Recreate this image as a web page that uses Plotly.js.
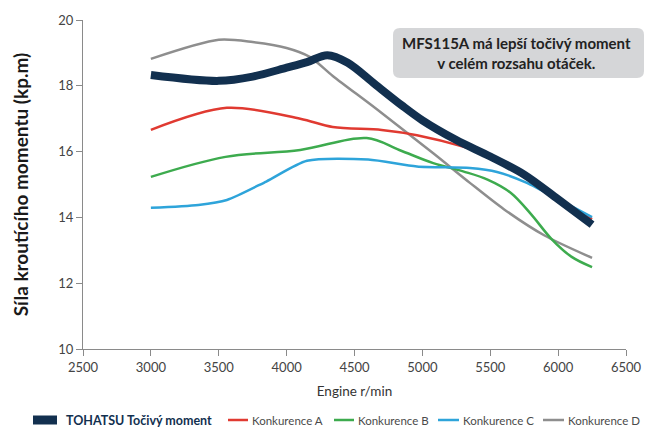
<!DOCTYPE html>
<html>
<head>
<meta charset="utf-8">
<script src="https://cdn.plot.ly/plotly-3.0.1.min.js"></script>
<style>
html,body{margin:0;padding:0;background:#fff;}
#chart{width:645px;height:427px;}
</style>
</head>
<body>
<div id="chart"></div>
<script>
// ---- data ----
const seriesNames = ["TOHATSU Točivý moment", "Konkurence A", "Konkurence B", "Konkurence C", "Konkurence D"];

const tohatsuRpm = [3000, 3500, 3750, 4000, 4150, 4300, 4450, 4650, 4850, 5000, 5250, 5500, 5750, 6000, 6250];
const tohatsuVal = [18.33, 18.15, 18.28, 18.55, 18.72, 18.93, 18.7, 18.05, 17.4, 16.95, 16.35, 15.85, 15.3, 14.55, 13.78];

const aRpm = [3000, 3560, 4100, 4340, 4700, 4960, 5300, 5500, 5750, 6000, 6250];
const aVal = [16.66, 17.33, 17.0, 16.75, 16.66, 16.5, 16.15, 15.85, 15.22, 14.55, 13.95];

const bRpm = [3000, 3550, 4100, 4590, 4830, 5080, 5300, 5480, 5650, 5800, 5950, 6100, 6250];
const bVal = [15.23, 15.84, 16.05, 16.41, 16.05, 15.65, 15.4, 15.15, 14.75, 14.1, 13.35, 12.8, 12.49];

const cRpm = [3000, 3350, 3560, 3850, 4150, 4600, 4960, 5350, 5550, 5770, 6010, 6250];
const cVal = [14.29, 14.38, 14.53, 15.09, 15.72, 15.76, 15.55, 15.5, 15.38, 15.05, 14.53, 14.01];

const dRpm = [3000, 3500, 3750, 4000, 4170, 4340, 4660, 5080, 5350, 5600, 5900, 6250];
const dVal = [18.82, 19.4, 19.33, 19.15, 18.88, 18.3, 17.3, 15.95, 15.05, 14.25, 13.45, 12.77];

const xTicks = [2500, 3000, 3500, 4000, 4500, 5000, 5500, 6000, 6500];
const yTicks = [10, 12, 14, 16, 18, 20];

const xTitle = "Engine r/min";
const yTitle = "Síla kroutícího momentu (kp.m)";
const noteText = "MFS115A má lepší točivý moment<br>v celém rozsahu otáček.";

// ---- styles ----
const colors = ["#12304f", "#e03a31", "#3dab4e", "#2ea4da", "#8e8e8e"];
const widths = [8, 2.5, 2.5, 2.5, 2.5];
const smooth = [0.9, 0.9, 1.0, 0.7, 0.8];
const FONT = "Lato, 'Open Sans', sans-serif";

const xs = [tohatsuRpm, aRpm, bRpm, cRpm, dRpm];
const ys = [tohatsuVal, aVal, bVal, cVal, dVal];
const order = [4, 1, 2, 3, 0]; // draw TOHATSU on top

const traces = order.map(i => ({
  type: "scatter", mode: "lines",
  x: xs[i], y: ys[i], name: seriesNames[i],
  line: {color: colors[i], width: widths[i], shape: "spline", smoothing: smooth[i]},
  showlegend: false, hoverinfo: "skip"
}));

// plot area pixel geometry helpers for legend/annotation placement
const L = 83, R = 19, T = 20, B = 78, W = 645, H = 427;
const pw = W - L - R, ph = H - T - B;
const px = v => (v - L) / pw;
const py = v => (H - B - v) / ph;

// manual legend
const legendItems = [
  {x0: 33, x1: 57, tx: 64},
  {x0: 228, x1: 248, tx: 250},
  {x0: 334, x1: 354, tx: 356},
  {x0: 438, x1: 459, tx: 461},
  {x0: 543, x1: 564, tx: 566}
];
const legY = 420;
const shapes = [];
const annotations = [];
legendItems.forEach((it, i) => {
  shapes.push({type: "line", xref: "paper", yref: "paper",
    x0: px(it.x0), x1: px(it.x1), y0: py(legY), y1: py(legY),
    line: {color: colors[i], width: i === 0 ? 9 : 2.5}});
  annotations.push({xref: "paper", yref: "paper", x: px(it.tx), y: py(legY),
    xanchor: "left", yanchor: "middle", showarrow: false,
    text: seriesNames[i],
    font: {family: FONT, size: i === 0 ? 12.5 : 11.5, color: i === 0 ? "#12304f" : "#4a4a4a", weight: i === 0 ? 700 : 400}});
});
// note box
const bx0 = 393, bx1 = 644, by0 = 28, by1 = 78, r = 7;
const X = v => px(v), Y = v => py(v);
shapes.push({type: "path", xref: "paper", yref: "paper", fillcolor: "#d5d6d8", line: {width: 0},
  path: `M ${X(bx0 + r)} ${Y(by0)} L ${X(bx1 - r)} ${Y(by0)} Q ${X(bx1)} ${Y(by0)} ${X(bx1)} ${Y(by0 + r)} L ${X(bx1)} ${Y(by1 - r)} Q ${X(bx1)} ${Y(by1)} ${X(bx1 - r)} ${Y(by1)} L ${X(bx0 + r)} ${Y(by1)} Q ${X(bx0)} ${Y(by1)} ${X(bx0)} ${Y(by1 - r)} L ${X(bx0)} ${Y(by0 + r)} Q ${X(bx0)} ${Y(by0)} ${X(bx0 + r)} ${Y(by0)} Z`,
  layer: "above"});
annotations.push({xref: "paper", yref: "paper", x: X((bx0 + bx1) / 2 - 2), y: Y((by0 + by1) / 2),
  xanchor: "center", yanchor: "middle", showarrow: false, text: noteText,
  font: {family: FONT, size: 15, color: "#222", weight: 700}});

const layout = {
  width: W, height: H,
  margin: {l: L, r: R, t: T, b: B},
  paper_bgcolor: "#fff", plot_bgcolor: "#fff",
  showlegend: false,
  font: {family: FONT, color: "#444", size: 12},
  xaxis: {
    range: [2500, 6500], tickvals: xTicks, ticktext: xTicks.map(String),
    showgrid: false, zeroline: false, showline: true, linecolor: "#8a8a8a", linewidth: 1,
    ticks: "outside", ticklen: 6, tickcolor: "#8a8a8a",
    tickfont: {family: FONT, size: 13, color: "#444"},
    title: {text: xTitle, font: {family: FONT, size: 13.5, color: "#333"}, standoff: 12}
  },
  yaxis: {
    range: [10, 20], tickvals: yTicks, ticktext: yTicks.map(String),
    showgrid: false, zeroline: false, showline: true, linecolor: "#8a8a8a", linewidth: 1,
    ticks: "outside", ticklen: 6, tickcolor: "#8a8a8a",
    tickfont: {family: FONT, size: 13, color: "#444"},
    title: {text: yTitle, font: {family: FONT, size: 19, color: "#1a1a1a", weight: 700}, standoff: 24}
  },
  shapes: shapes,
  annotations: annotations
};

Plotly.newPlot("chart", traces, layout, {displayModeBar: false, staticPlot: true});
</script>
</body>
</html>
